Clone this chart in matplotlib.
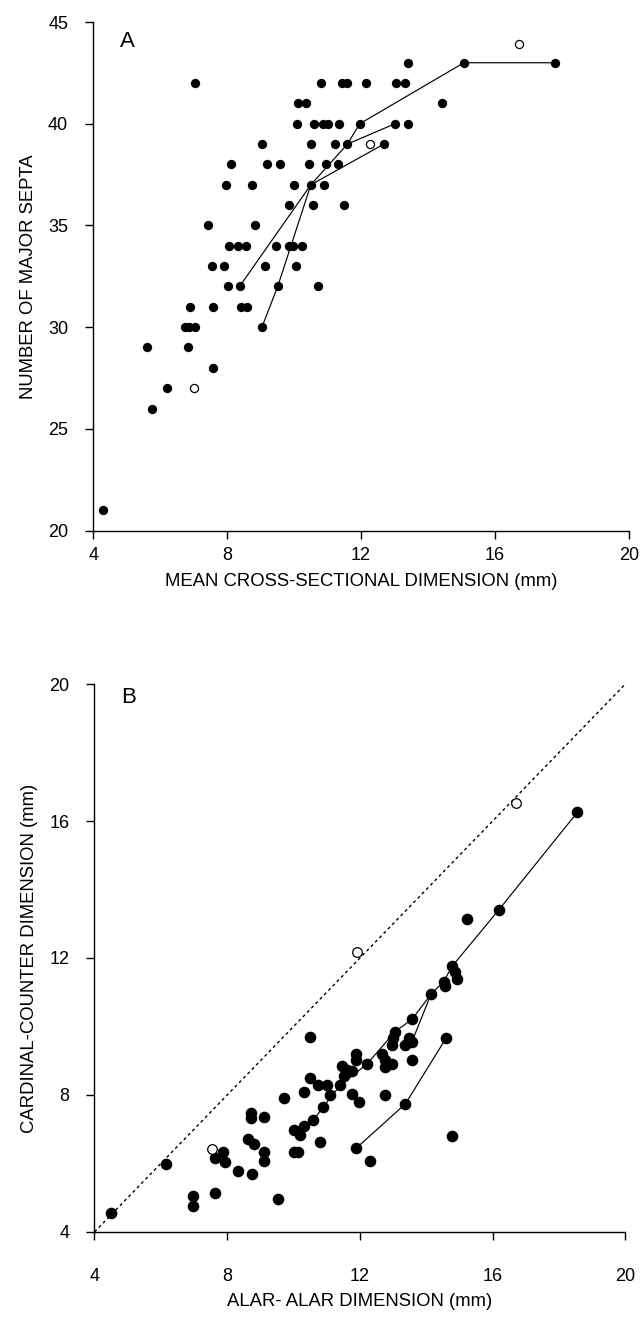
import matplotlib.pyplot as plt
import numpy as np

plt.rcParams['font.family'] = ['Liberation Sans', 'DejaVu Sans']

# ---- Panel A: septa count vs mean cross-sectional dimension ----
a_x = [13.41, 15.07, 17.8,
       7.03, 10.8, 11.44, 11.59, 12.14, 13.03, 13.31,
       10.13, 10.35, 14.42,
       10.1, 10.6, 10.87, 11.02, 11.35, 11.96, 13.01, 13.41,
       9.05, 10.5, 11.23, 11.59, 12.68,
       8.12, 9.19, 9.58, 10.45, 10.95, 11.3,
       7.97, 8.73, 9.99, 10.5, 10.9,
       9.84, 10.55, 11.49,
       7.43, 8.84,
       8.07, 8.32, 8.57, 9.45, 9.84, 9.96, 10.24,
       7.55, 7.92, 9.13, 10.06,
       8.02, 8.37, 9.51, 10.7,
       6.9, 7.57, 8.42, 8.59,
       6.73, 6.85, 7.05, 9.04,
       5.62, 6.83,
       7.58,
       6.19,
       5.77,
       4.28]
a_y = [43, 43, 43,
       42, 42, 42, 42, 42, 42, 42,
       41, 41, 41,
       40, 40, 40, 40, 40, 40, 40, 40,
       39, 39, 39, 39, 39,
       38, 38, 38, 38, 38, 38,
       37, 37, 37, 37, 37,
       36, 36, 36,
       35, 35,
       34, 34, 34, 34, 34, 34, 34,
       33, 33, 33, 33,
       32, 32, 32, 32,
       31, 31, 31, 31,
       30, 30, 30, 30,
       29, 29,
       28,
       27,
       26,
       21]
a_open_x = [7.01, 12.26, 16.72]
a_open_y = [27, 39, 43.9]

# growth series joined by lines
a_s1_x = [8.37, 10.5, 12.68]
a_s1_y = [32, 37, 39]
a_s2_x = [9.04, 9.51, 10.5, 11.59, 11.96, 15.07, 17.8]
a_s2_y = [30, 32, 37, 39, 40, 43, 43]
a_s3_x = [11.59, 13.01]
a_s3_y = [39, 40]

# ---- Panel B: cardinal-counter vs alar-alar dimension ----
b_x = [4.49, 6.16, 6.96, 6.96, 7.63, 7.86, 7.63, 7.94, 8.34, 8.74,
       8.64, 8.82, 8.72, 8.72, 9.11, 9.11, 9.11, 9.53, 9.72, 10.0,
       10.0, 10.12, 10.2, 10.3, 10.3, 10.6, 10.9, 10.8, 10.5, 10.5,
       10.75, 11.0, 11.1, 11.41, 11.51, 11.46, 11.61, 11.76, 11.76, 11.97,
       11.88, 11.88, 11.88, 12.29, 12.21, 12.66, 12.76, 12.97, 12.76, 12.76,
       12.97, 12.99, 13.06, 13.37, 13.47, 13.57, 13.57, 13.57, 13.37, 14.14,
       14.52, 14.55, 14.78, 14.87, 14.93, 14.59, 14.78, 15.23, 16.18, 18.55]
b_y = [4.56, 5.98, 5.05, 4.76, 5.13, 6.34, 6.15, 6.05, 5.78, 5.69,
       6.71, 6.56, 7.47, 7.33, 7.37, 6.34, 6.07, 4.96, 7.91, 6.98,
       6.34, 6.34, 6.83, 7.08, 8.1, 7.27, 7.66, 6.62, 9.69, 8.49,
       8.29, 8.29, 8.0, 8.29, 8.54, 8.85, 8.73, 8.71, 8.03, 7.8,
       9.2, 9.02, 6.44, 6.07, 8.9, 9.2, 9.02, 8.9, 8.83, 8.0,
       9.47, 9.67, 9.85, 9.47, 9.67, 9.56, 9.01, 10.21, 7.74, 10.94,
       11.31, 11.18, 11.76, 11.6, 11.38, 9.65, 6.81, 13.13, 13.4, 16.25]
b_open_x = [7.55, 11.91, 16.71]
b_open_y = [6.42, 12.18, 16.52]

b_m_x = [10.2, 10.6, 10.9, 11.41, 12.21, 13.06, 13.57, 14.14, 14.52, 14.78, 16.18, 18.55]
b_m_y = [6.83, 7.27, 7.66, 8.29, 8.9, 9.85, 10.21, 10.94, 11.31, 11.76, 13.4, 16.25]
b_l2_x = [13.57, 14.14]
b_l2_y = [9.56, 10.94]
b_l3_x = [11.88, 13.37, 14.59]
b_l3_y = [6.44, 7.74, 9.65]


def style(ax, xpad, ypad):
    for s in ['top', 'right']:
        ax.spines[s].set_visible(False)
    for s in ['left', 'bottom']:
        ax.spines[s].set_linewidth(1.0)
    ax.tick_params(direction='out', length=6, width=1.0, labelsize=13)
    ax.tick_params(axis='x', pad=xpad)
    ax.tick_params(axis='y', pad=ypad)


fig = plt.figure(figsize=(6.44, 13.3), dpi=100)

# panel A
ax1 = fig.add_axes([0.1447, 0.6011, 0.832, 0.3823])
ax1.plot(a_s1_x, a_s1_y, color='black', lw=0.85, zorder=2)
ax1.plot(a_s2_x, a_s2_y, color='black', lw=0.85, zorder=2)
ax1.plot(a_s3_x, a_s3_y, color='black', lw=0.85, zorder=2)
ax1.scatter(a_x, a_y, s=45, color='black', zorder=3, linewidths=0)
ax1.scatter(a_open_x, a_open_y, s=34, facecolor='white', edgecolor='black',
            linewidths=0.9, zorder=3)
ax1.set_xlim(4, 20)
ax1.set_ylim(20, 45)
ax1.set_xticks([4, 8, 12, 16, 20])
ax1.set_yticks([20, 25, 30, 35, 40, 45])
style(ax1, 6, 12)
ax1.set_xlabel('MEAN CROSS-SECTIONAL DIMENSION (mm)', fontsize=13.3, labelpad=6)
ax1.set_ylabel('NUMBER OF MAJOR SEPTA', fontsize=13.3, labelpad=8)
ax1.text(0.05, 0.983, 'A', transform=ax1.transAxes, fontsize=16, va='top')

# panel B
ax2 = fig.add_axes([0.1467, 0.0737, 0.8244, 0.412])
ax2.plot([4, 20], [4, 20], color='black', lw=1.0, linestyle=(0, (2.2, 2.2)), zorder=1)
ax2.plot(b_m_x, b_m_y, color='black', lw=0.85, zorder=2)
ax2.plot(b_l2_x, b_l2_y, color='black', lw=0.85, zorder=2)
ax2.plot(b_l3_x, b_l3_y, color='black', lw=0.85, zorder=2)
ax2.scatter(b_x, b_y, s=70, color='black', zorder=3, linewidths=0)
ax2.scatter(b_open_x, b_open_y, s=48, facecolor='white', edgecolor='black',
            linewidths=0.9, zorder=3)
ax2.set_xlim(4, 20)
ax2.set_ylim(4, 20)
ax2.set_xticks([4, 8, 12, 16, 20])
ax2.set_yticks([4, 8, 12, 16, 20])
style(ax2, 20, 12)
ax2.set_xlabel('ALAR- ALAR DIMENSION (mm)', fontsize=13.3, labelpad=6)
ax2.set_ylabel('CARDINAL-COUNTER DIMENSION (mm)', fontsize=13.3, labelpad=8)
ax2.text(0.05, 0.995, 'B', transform=ax2.transAxes, fontsize=16, va='top')

fig.savefig('out.png', dpi=100)
